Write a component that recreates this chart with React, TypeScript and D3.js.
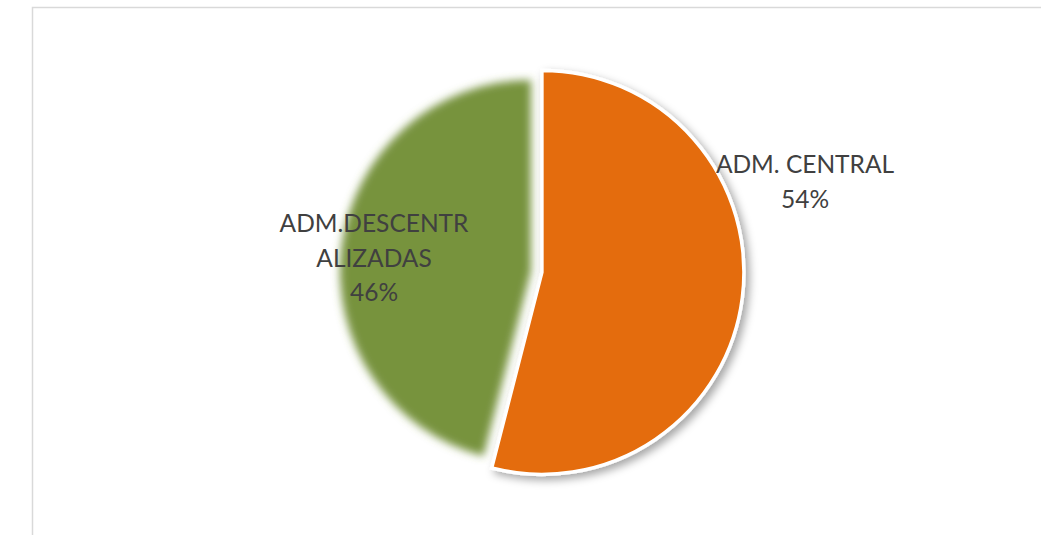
import React from "react";
import * as d3 from "d3";

const categories = ["ADM. CENTRAL", "ADM.DESCENTRALIZADAS"];
const values = [54, 46];
const labelLines = [["ADM. CENTRAL"], ["ADM.DESCENTR", "ALIZADAS"]];
const colors = ["#E46C0A", "#77933C"];

const W = 1041;
const H = 535;
const cx = 531;
const cy = 271;
const R = 202;
const explode = 11;
const labelPos = [
  { x: 805, y: 173 },
  { x: 374, y: 232 },
];

export default function App() {
  const total = d3.sum(values);
  const pie = d3.pie<number>().sort(null).startAngle(0).endAngle(2 * Math.PI);
  const arcs = pie(values);
  const arcOrange = d3.arc<d3.PieArcDatum<number>>().innerRadius(0).outerRadius(R);
  const arcGreen = d3.arc<d3.PieArcDatum<number>>().innerRadius(0).outerRadius(191);
  const fmt = d3.format(".0%");

  return (
    <svg width={W} height={H} style={{ position: "absolute", left: 0, top: 0, background: "#fff" }}>
      <defs>
        <filter id="soft" x="-20%" y="-20%" width="140%" height="140%">
          <feGaussianBlur stdDeviation="4.5" />
        </filter>
        <filter id="shadow" x="-20%" y="-20%" width="140%" height="140%">
          <feDropShadow dx="4" dy="4" stdDeviation="4" floodColor="#000" floodOpacity="0.35" />
        </filter>
      </defs>
      <rect x={32.5} y={7.5} width={W} height={H} fill="#fff" stroke="#D9D9D9" strokeWidth={1.5} />
      {arcs.map((a, i) => {
        const mid = (a.startAngle + a.endAngle) / 2;
        if (i === 0) {
          const dx = explode * Math.sin(mid);
          const dy = -explode * Math.cos(mid);
          return (
            <g key={i} transform={`translate(${cx + dx},${cy + dy})`}>
              <path d={arcOrange(a) || ""} fill={colors[i]} stroke="#fff" strokeWidth={3.5} strokeLinejoin="miter" filter="url(#shadow)" />
            </g>
          );
        }
        return (
          <g key={i} transform={`translate(${cx},${cy})`}>
            <path d={arcGreen(a) || ""} fill={colors[i]} filter="url(#soft)" />
          </g>
        );
      })}
      {arcs.map((a, i) => {
        const lines = [...labelLines[i], fmt(values[i] / total)];
        return (
          <text key={"l" + i} x={labelPos[i].x} y={labelPos[i].y} textAnchor="middle"
            fontFamily="Lato, 'Open Sans', sans-serif" fontSize={24.5} fill="#404040">
            {lines.map((t, j) => (
              <tspan key={j} x={labelPos[i].x} dy={j === 0 ? 0 : 34.5}>{t}</tspan>
            ))}
          </text>
        );
      })}
    </svg>
  );
}
